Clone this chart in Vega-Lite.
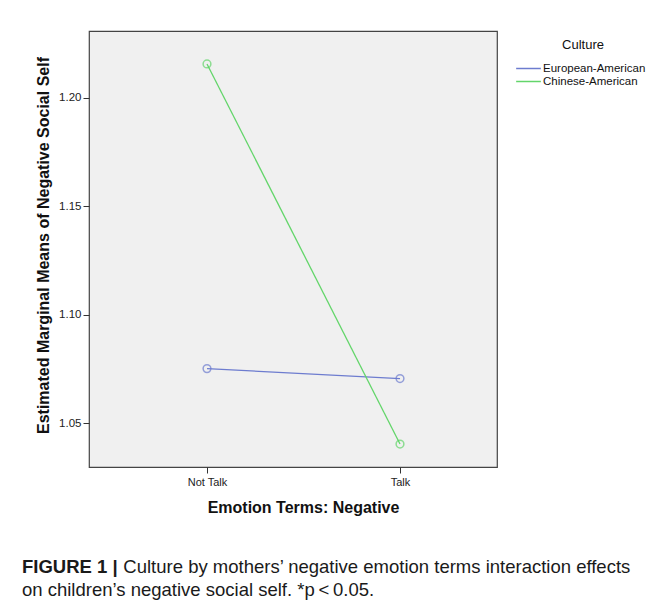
{
  "$schema": "https://vega.github.io/schema/vega-lite/v6.json",
  "width": 408,
  "height": 436,
  "autosize": {"type": "none"},
  "padding": {"left": 89, "top": 31, "right": 169, "bottom": 141},
  "background": "white",
  "data": {
    "values": [
      {"emotion": "Not Talk", "culture": "European-American", "mean": 1.0751},
      {"emotion": "Talk", "culture": "European-American", "mean": 1.0705},
      {"emotion": "Not Talk", "culture": "Chinese-American", "mean": 1.2157},
      {"emotion": "Talk", "culture": "Chinese-American", "mean": 1.0403}
    ]
  },
  "title": {
    "text": "FIGURE 1  |",
    "subtitle": [
      "\u200b\u00a0\u00a0\u00a0\u00a0\u00a0\u00a0\u00a0\u00a0\u00a0\u00a0\u00a0\u00a0\u00a0\u00a0\u00a0\u00a0\u00a0\u00a0\u00a0\u2009Culture by mothers’ negative emotion terms interaction effects",
      "on children’s negative social self. *p\u2009<\u20090.05."
    ],
    "orient": "bottom",
    "anchor": "start",
    "frame": "group",
    "dx": -67,
    "offset": 43,
    "font": "Liberation Sans",
    "fontSize": 18.5,
    "fontWeight": "bold",
    "color": "#1a1a1a",
    "subtitleFont": "Liberation Sans",
    "subtitleFontSize": 18.5,
    "subtitleFontWeight": "normal",
    "subtitleColor": "#1a1a1a",
    "subtitleLineHeight": 23,
    "subtitlePadding": -18.5
  },
  "encoding": {
    "x": {
      "field": "emotion",
      "type": "ordinal",
      "scale": {"type": "point", "domain": ["Not Talk", "Talk"], "range": [118, 311], "padding": 0},
      "axis": {
        "title": "Emotion Terms: Negative",
        "titleFont": "Liberation Sans",
        "titleFontSize": 16,
        "titleFontWeight": "bold",
        "titleColor": "#111",
        "titlePadding": 12,
        "titleX": 214,
        "labelAngle": 0,
        "labelFont": "Liberation Sans",
        "labelFontSize": 11,
        "labelColor": "#222",
        "labelPadding": 3,
        "tickSize": 6,
        "tickColor": "#333",
        "domain": false,
        "grid": false
      }
    },
    "y": {
      "field": "mean",
      "type": "quantitative",
      "scale": {"domain": [1.0297, 1.2309], "nice": false, "zero": false},
      "axis": {
        "title": "Estimated Marginal Means of Negative Social Self",
        "titleFont": "Liberation Sans",
        "titleFontSize": 16,
        "titleFontWeight": "bold",
        "titleColor": "#111",
        "titlePadding": 7,
        "titleY": 214,
        "values": [1.05, 1.1, 1.15, 1.2],
        "format": ".2f",
        "labelFont": "Liberation Sans",
        "labelFontSize": 11.5,
        "labelColor": "#222",
        "labelPadding": 2,
        "tickSize": 6,
        "tickColor": "#333",
        "domain": false,
        "grid": false
      }
    },
    "color": {
      "field": "culture",
      "type": "nominal",
      "scale": {"domain": ["European-American", "Chinese-American"], "range": ["#6d7ccf", "#63d56a"]},
      "legend": {
        "title": "Culture",
        "orient": "none",
        "legendX": 432,
        "legendY": 8,
        "padding": 0,
        "titleFont": "Liberation Sans",
        "titleFontSize": 13,
        "titleFontWeight": "normal",
        "titleColor": "#111",
        "titleAnchor": "middle",
        "titlePadding": 9,
        "labelFont": "Liberation Sans",
        "labelFontSize": 11.5,
        "labelColor": "#111",
        "labelOffset": 7,
        "symbolType": "M-1.9,0H1.9",
        "symbolSize": 169,
        "symbolStrokeWidth": 1.5,
        "rowPadding": 0
      }
    }
  },
  "layer": [
    {"mark": {"type": "line", "strokeWidth": 1.3}},
    {
      "mark": {"type": "point", "filled": false, "size": 60, "strokeWidth": 1.5},
      "encoding": {"color": {"field": "culture", "type": "nominal", "legend": null}}
    }
  ],
  "config": {
    "view": {"fill": "#f0f0f0", "stroke": "#444", "strokeWidth": 1.2}
  }
}
